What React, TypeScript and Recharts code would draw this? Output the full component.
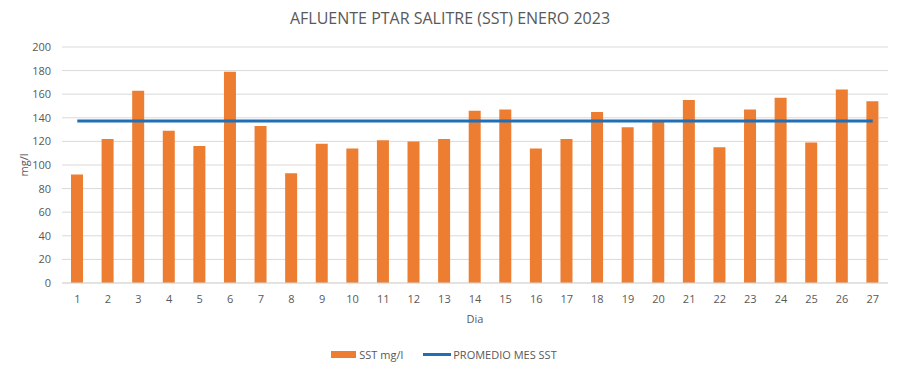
import {
  ComposedChart,
  Bar,
  Line,
  XAxis,
  YAxis,
  CartesianGrid,
  Legend,
  Label,
} from "recharts";

const dias = [
  "1", "2", "3", "4", "5", "6", "7", "8", "9", "10", "11", "12", "13", "14",
  "15", "16", "17", "18", "19", "20", "21", "22", "23", "24", "25", "26", "27",
];
const sst = [
  92, 122, 163, 129, 116, 179, 133, 93, 118, 114, 121, 120, 122, 146,
  147, 114, 122, 145, 132, 137, 155, 115, 147, 157, 119, 164, 154,
];
const promedioMes = 137.3;
const yTicks = [0, 20, 40, 60, 80, 100, 120, 140, 160, 180, 200];

const data = dias.map((d, i) => ({ dia: d, sst: sst[i], promedio: promedioMes }));

const font = "'Open Sans', sans-serif";
const grey = "#595959";
const orange = "#ED7D31";
const blue = "#1F6EB6";

function LegendBox() {
  return (
    <div style={{ display: "flex", justifyContent: "center", alignItems: "center", fontFamily: font, fontSize: 11, color: grey, height: 20 }}>
      <span style={{ display: "inline-block", width: 25, height: 7, background: orange, marginRight: 3 }} />
      <span style={{ marginRight: 20 }}>SST mg/l</span>
      <span style={{ display: "inline-block", width: 28, height: 3, background: blue, marginRight: 2 }} />
      <span>PROMEDIO MES SST</span>
    </div>
  );
}

export default function App() {
  return (
    <div style={{ position: "absolute", left: 0, top: 0, width: 900, height: 374, background: "#fff" }}>
      <div style={{ position: "absolute", top: 7, width: 900, textAlign: "center", fontFamily: font, fontSize: 16, color: grey }}>
        AFLUENTE PTAR SALITRE (SST) ENERO 2023
      </div>
      <ComposedChart width={900} height={374} data={data} margin={{ top: 47, right: 12, bottom: 10, left: 0 }}>
        <CartesianGrid vertical={false} stroke="#d9d9d9" />
        <XAxis
          dataKey="dia"
          height={61}
          tickLine={false}
          axisLine={{ stroke: "#d9d9d9" }}
          tick={{ fill: grey, fontSize: 11, fontFamily: font }}
          tickMargin={6}
          interval={0}
        >
          <Label value="Dia" position="insideTop" offset={32} style={{ fill: grey, fontSize: 11, fontFamily: font }} />
        </XAxis>
        <YAxis
          width={62}
          domain={[0, 200]}
          ticks={yTicks}
          tickLine={false}
          axisLine={false}
          tick={{ fill: grey, fontSize: 11, fontFamily: font }}
          tickMargin={5}
        >
          <Label value="mg/l" angle={-90} position="insideLeft" offset={24} style={{ fill: grey, fontSize: 11, fontFamily: font, textAnchor: "middle" }} />
        </YAxis>
        <Legend verticalAlign="bottom" content={() => <LegendBox />} />
        <Bar dataKey="sst" name="SST mg/l" fill={orange} barSize={12} isAnimationActive={false} />
        <Line dataKey="promedio" name="PROMEDIO MES SST" stroke={blue} strokeWidth={3} dot={false} activeDot={false} isAnimationActive={false} />
      </ComposedChart>
    </div>
  );
}
